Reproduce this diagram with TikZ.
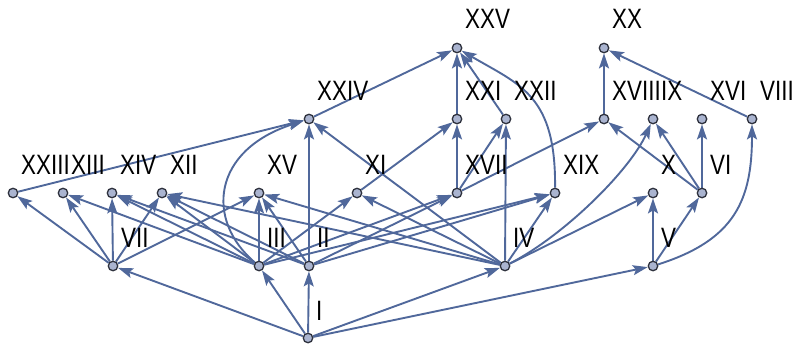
\documentclass[tikz,border=0pt]{standalone}
\usepackage{fontspec}
\setmainfont[FakeStretch=0.8]{Liberation Sans}
\usetikzlibrary{arrows.meta,backgrounds}
\definecolor{edgec}{RGB}{80,104,155}
\definecolor{vfill}{RGB}{170,180,208}
\definecolor{vdraw}{RGB}{45,48,60}
\tikzset{
  vert/.style={circle,minimum size=9.5pt,inner sep=0pt,fill=vfill,draw=vdraw,line width=1.3pt},
  lbl/.style={anchor=south west,inner sep=0pt,font=\fontsize{28}{28}\selectfont,text=black},
  edge/.style={draw=edgec,line width=1.9pt,-{Stealth[length=15pt,width=10pt,inset=3pt]}},
}
\begin{document}
\begin{tikzpicture}[x=1pt,y=-1pt]
\useasboundingbox (0,0) rectangle (793,351);
% layer 0
\node[vert] (I) at (308,338) {};
% layer 1
\node[vert] (VII) at (113,266) {};
\node[vert] (III) at (259,266) {};
\node[vert] (II) at (309,266) {};
\node[vert] (IV) at (505,266) {};
\node[vert] (V) at (653,266) {};
% layer 2
\node[vert] (XXIII) at (13,193) {};
\node[vert] (XIII) at (63,193) {};
\node[vert] (XIV) at (112,193) {};
\node[vert] (XII) at (162,193) {};
\node[vert] (XV) at (259,193) {};
\node[vert] (XI) at (357,193) {};
\node[vert] (XVII) at (457,193) {};
\node[vert] (XIX) at (555,193) {};
\node[vert] (X) at (653,193) {};
\node[vert] (VI) at (702,193) {};
% layer 3
\node[vert] (XXIV) at (309,119) {};
\node[vert] (XXI) at (457,119) {};
\node[vert] (XXII) at (506,119) {};
\node[vert] (XVIII) at (604,119) {};
\node[vert] (IX) at (653,119) {};
\node[vert] (XVI) at (702,119) {};
\node[vert] (VIII) at (752,119) {};
% layer 4
\node[vert] (XXV) at (457,48) {};
\node[vert] (XX) at (604,48) {};
% labels
\node[lbl] (lI) at (316,321) {I};
\node[lbl] (lVII) at (121,248) {VII};
\node[lbl] (lIII) at (267,248) {III};
\node[lbl] (lII) at (317,248) {II};
\node[lbl] (lIV) at (513,248) {IV};
\node[lbl] (lV) at (661,248) {V};
\node[lbl] (lXXIII) at (21,175) {XXIII};
\node[lbl] (lXIII) at (71,175) {XIII};
\node[lbl] (lXIV) at (120,175) {XIV};
\node[lbl] (lXII) at (170,175) {XII};
\node[lbl] (lXV) at (267,175) {XV};
\node[lbl] (lXI) at (365,175) {XI};
\node[lbl] (lXVII) at (465,175) {XVII};
\node[lbl] (lXIX) at (563,175) {XIX};
\node[lbl] (lX) at (661,175) {X};
\node[lbl] (lVI) at (710,175) {VI};
\node[lbl] (lXXIV) at (317,101) {XXIV};
\node[lbl] (lXXI) at (465,101) {XXI};
\node[lbl] (lXXII) at (514,101) {XXII};
\node[lbl] (lXVIII) at (612,101) {XVIII};
\node[lbl] (lIX) at (661,101) {IX};
\node[lbl] (lXVI) at (710,101) {XVI};
\node[lbl] (lVIII) at (760,101) {VIII};
\node[lbl] (lXXV) at (465,29) {XXV};
\node[lbl] (lXX) at (612,29) {XX};
\begin{pgfonlayer}{background}
% from I
\draw[edge] (I) -- (VII);
\draw[edge] (I) -- (III);
\draw[edge] (I) -- (II);
\draw[edge] (I) -- (IV);
\draw[edge] (I) -- (V);
% from VII
\draw[edge] (VII) -- (XXIII);
\draw[edge] (VII) -- (XIII);
\draw[edge] (VII) -- (XIV);
\draw[edge] (VII) -- (XII);
\draw[edge] (VII) -- (XV);
% from III
\draw[edge] (III) -- (XIII);
\draw[edge] (III) -- (XIV);
\draw[edge] (III) -- (XII);
\draw[edge] (III) -- (XV);
\draw[edge] (III) -- (XI);
\draw[edge] (III) -- (XVII);
\draw[edge] (III) -- (XIX);
\draw[edge] (III) .. controls (205,220) and (212,150) .. (XXIV);
% from II
\draw[edge] (II) -- (XIV);
\draw[edge] (II) -- (XII);
\draw[edge] (II) -- (XV);
\draw[edge] (II) -- (XVII);
\draw[edge] (II) -- (XIX);
\draw[edge] (II) -- (XXIV);
% from IV
\draw[edge] (IV) -- (XII);
\draw[edge] (IV) -- (XV);
\draw[edge] (IV) -- (XI);
\draw[edge] (IV) -- (XXIV);
\draw[edge] (IV) -- (XXII);
\draw[edge] (IV) -- (XIX);
\draw[edge] (IV) -- (X);
\draw[edge] (IV) .. controls (565,235) and (630,170) .. (IX);
% from V
\draw[edge] (V) -- (X);
\draw[edge] (V) -- (VI);
\draw[edge] (V) .. controls (735,240) and (752,200) .. (VIII);
% layer 2 up
\draw[edge] (XXIII) -- (XXIV);
\draw[edge] (XI) -- (XXI);
\draw[edge] (XVII) -- (XXI);
\draw[edge] (XVII) -- (XXII);
\draw[edge] (XVII) -- (XVIII);
\draw[edge] (XIX) .. controls (556,95) and (520,85) .. (XXV);
\draw[edge] (VI) -- (XVIII);
\draw[edge] (VI) -- (IX);
\draw[edge] (VI) -- (XVI);
% layer 3 up
\draw[edge] (XXIV) -- (XXV);
\draw[edge] (XXI) -- (XXV);
\draw[edge] (XXII) -- (XXV);
\draw[edge] (XVIII) -- (XX);
\draw[edge] (VIII) -- (XX);
\end{pgfonlayer}
\end{tikzpicture}
\end{document}
